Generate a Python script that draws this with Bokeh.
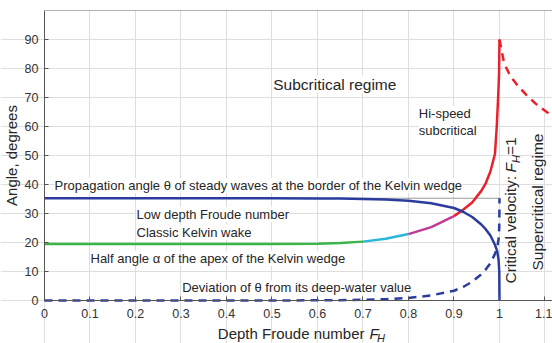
import numpy as np
from bokeh.plotting import figure
from bokeh.models import Label, LinearAxis, FixedTicker, CustomJSTickFormatter
from bokeh.embed import file_html
from bokeh.resources import INLINE

# Propagation angle theta of steady waves at the Kelvin wedge border (degrees)
fh_theta = [0.0, 0.1, 0.2, 0.3, 0.4, 0.5, 0.6, 0.65, 0.7, 0.75, 0.8, 0.85,
            0.9, 0.92, 0.94, 0.96, 0.97, 0.98, 0.99, 0.995, 0.998, 0.9995, 1.0]
theta = [35.26, 35.26, 35.26, 35.26, 35.26, 35.25, 35.2, 35.15, 35.0, 34.8,
         34.4, 33.5, 31.9, 30.6, 28.8, 26.2, 24.5, 22.4, 19.2, 17.0, 14.0,
         10.0, 0.0]
# Deviation of theta from its deep-water value (degrees)
theta_dev = [0.0, 0.0, 0.0, 0.0, 0.0, 0.01, 0.06, 0.11, 0.26, 0.46, 0.86,
             1.76, 3.36, 4.66, 6.46, 9.06, 10.76, 12.86, 16.06, 18.26, 21.26,
             25.26, 35.26]
theta_deep = 35.26
fh_ref = [0.0, 1.0]

# Half angle alpha of the apex of the Kelvin wedge, subcritical branch
fh_alpha = [0.0, 0.1, 0.2, 0.3, 0.4, 0.5, 0.6, 0.65, 0.7, 0.75, 0.8, 0.85,
            0.9, 0.92, 0.94, 0.96, 0.97, 0.98, 0.99, 0.994, 0.997, 0.999, 1.0]
alpha = [19.47, 19.47, 19.47, 19.47, 19.47, 19.5, 19.6, 19.8, 20.3, 21.3,
         22.9, 25.3, 29.1, 31.3, 33.8, 37.8, 40.5, 44.5, 50.5, 60.0, 70.0,
         78.0, 90.0]
alpha_breaks = [0.0, 0.7, 0.8, 0.9, 1.0]
alpha_colors = ["#3ab54a", "#29b6d8", "#c23a98", "#e8212b"]

# Supercritical branch of the wedge half angle
fh_super = [1.0, 1.01, 1.02, 1.03, 1.04, 1.06, 1.08, 1.10, 1.12]
alpha_super = [90.0, 81.9, 78.6, 76.1, 74.1, 70.7, 67.8, 65.4, 63.2]

x_ticks = [0.0, 0.1, 0.2, 0.3, 0.4, 0.5, 0.6, 0.7, 0.8, 0.9, 1.0, 1.1]
y_ticks = [0, 10, 20, 30, 40, 50, 60, 70, 80, 90]
x_max = 1.1165
y_max = 100

BLUE = "#2b3c9e"
RED = "#e8212b"
TEXT = "#262626"
FONT = "Liberation Sans"

# The frame fills the canvas; both axes are pinned at the origin so that
# tick labels and the composed x-axis title stay fully visible.
p = figure(width=552, height=343, x_range=(-0.0967, x_max),
           y_range=(-14.83, y_max),
           output_backend="svg", toolbar_location=None,
           min_border_left=0, min_border_right=0, min_border_top=10,
           min_border_bottom=0)
p.outline_line_color = None
p.background_fill_color = "white"
p.border_fill_color = "white"

for ax in (p.xaxis[0], p.yaxis[0]):
    ax.axis_line_color = "#555555"
    ax.major_tick_line_color = "#555555"
    ax.major_tick_in = 4
    ax.major_tick_out = 0
    ax.minor_tick_line_color = None
    ax.major_label_text_font = FONT
    ax.major_label_text_font_size = "12.5px"
    ax.major_label_text_color = "#333333"
    ax.major_label_standoff = 6

p.xaxis.fixed_location = 0
p.xaxis.bounds = (0, x_max)
p.xaxis.major_label_standoff = 9
p.xaxis.ticker = FixedTicker(ticks=x_ticks)
p.xaxis.formatter = CustomJSTickFormatter(
    code="return Number(tick.toFixed(1)).toString();")

p.yaxis.fixed_location = 0
p.yaxis.bounds = (0, y_max)
p.yaxis.ticker = FixedTicker(ticks=y_ticks)
p.yaxis.axis_label = "Angle, degrees"
p.yaxis.axis_label_text_font = FONT
p.yaxis.axis_label_text_font_size = "15px"
p.yaxis.axis_label_text_font_style = "normal"
p.yaxis.axis_label_text_color = TEXT
p.yaxis.axis_label_standoff = 2

# top border of the plotting box
top = LinearAxis(fixed_location=y_max, bounds=(0, x_max),
                 axis_line_color="#666666", major_tick_line_color=None,
                 minor_tick_line_color=None, major_label_text_color=None,
                 major_label_text_font_size="1px")
p.add_layout(top, "above")

p.xgrid.ticker = FixedTicker(ticks=x_ticks)
p.xgrid.bounds = (0, y_max)
p.ygrid.ticker = FixedTicker(ticks=y_ticks)
p.ygrid.bounds = (0, x_max)
p.grid.grid_line_color = "#dedede"
p.grid.grid_line_width = 1

# deep-water reference level of theta
p.line(fh_ref, [theta_deep, theta_deep], line_color="#9a9a9a", line_width=1)

# half angle alpha, coloured by Froude number band
fa = np.array(fh_alpha)
aa = np.array(alpha)
for lo, hi, col in zip(alpha_breaks[:-1], alpha_breaks[1:], alpha_colors):
    m = (fa >= lo) & (fa <= hi)
    p.line(fa[m], aa[m], line_color=col, line_width=2.5)
p.line(fh_super, alpha_super, line_color=RED, line_width=2.5,
       line_dash="8 6")

# propagation angle and its deviation
p.line(fh_theta, theta, line_color=BLUE, line_width=2.5)
p.line(fh_theta, theta_dev, line_color=BLUE, line_width=2.5,
       line_dash="8 6")


def px(x):
    return (x - 44) / 455.0


def py(y):
    return (300 - y) / 2.9


def add_text(text, x, y, size="13px", style="normal", angle=0.0,
             bg=None, align="left"):
    lab = Label(x=px(x), y=py(y), text=text, text_font=FONT,
                text_font_size=size, text_font_style=style,
                text_color=TEXT, text_align=align,
                text_baseline="middle", angle=angle)
    if bg:
        lab.background_fill_color = bg
    p.add_layout(lab)


add_text("Subcritical regime", 272.7, 84, size="15.5px", bg="white")
add_text("Hi-speed", 418.3, 112.7, bg="white")
add_text("subcritical", 418.3, 130, bg="white")
add_text("Propagation angle \u03b8 of steady waves at the border of the Kelvin wedge",
         54, 185, bg="white")
add_text("Low depth Froude number", 136, 214, bg="white")
add_text("Classic Kelvin wake", 136, 231.7, bg="white")
add_text("Half angle \u03b1 of the apex of the Kelvin wedge", 90, 258, bg="white")
add_text("Deviation of \u03b8 from its deep-water value", 181.7, 286.7, bg="white")

# vertical annotations at and beyond the critical velocity
rot = np.pi / 2
add_text("Critical velocity: ", 510.5, 283, size="15.5px", angle=rot)
add_text("F", 510.5, 172, size="15.5px", style="italic", angle=rot)
add_text("H", 515.5, 162.5, size="11px", style="italic", angle=rot)
add_text("=1", 510.5, 154.6, size="15.5px", angle=rot)
add_text("Supercritical regime", 537, 270, size="15.5px", angle=rot)

# x-axis title with subscript
add_text("Depth Froude number", 217.3, 332.7, size="15px")
add_text("F", 369, 332.7, size="15px", style="italic")
add_text("H", 376.5, 338, size="11px", style="italic")

open("out.html", "w").write(file_html(p, INLINE))
